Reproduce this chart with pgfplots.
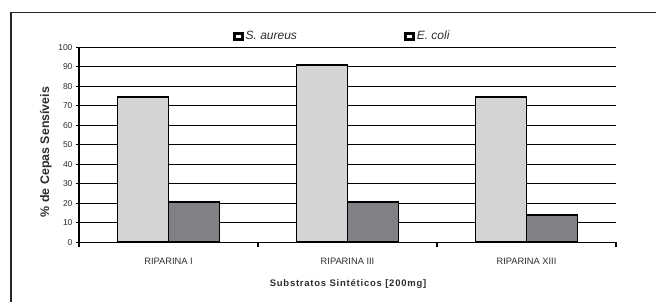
\documentclass[border=0pt]{standalone}
\usepackage{fontspec}
\setmainfont{Liberation Sans}
\usepackage{pgfplots}
\pgfplotsset{compat=1.18}
\definecolor{sa}{RGB}{212,212,214}
\definecolor{ec}{RGB}{128,129,133}
\definecolor{txt}{RGB}{45,45,45}
\begin{document}
\begin{tikzpicture}
\path[use as bounding box] (0,0) rectangle (656pt,302pt);
\draw[line width=1.3pt, black!85] (11pt,0) -- (11pt,289.5pt) -- (656pt,289.5pt);
\begin{axis}[
  at={(79pt,59.7pt)}, anchor=south west,
  scale only axis, width=537pt, height=195pt,
  ybar, bar width=51pt, ybar=0pt,
  xmin=-0.5, xmax=2.5, ymin=0, ymax=100,
  xtick={0,1,2}, xticklabels={RIPARINA I, RIPARINA III, RIPARINA XIII},
  minor xtick={-0.5,0.5,1.5,2.5},
  ytick={0,10,...,100},
  axis lines*=left,
  axis line style={black, line width=1.2pt},
  ymajorgrids, major grid style={black, line width=1.2pt},
  tick align=center,
  major tick length=6pt,
  minor tick length=5pt,
  major x tick style={draw=none},
  minor x tick style={black, line width=1.2pt, yshift=-2.5pt},
  major y tick style={black, line width=1.2pt},
  /pgf/number format/assume math mode=true,
  yticklabel style={font=\fontsize{8.5}{10}\selectfont, text=txt},
  xticklabel style={font=\fontsize{9.3}{11}\selectfont, text=txt, yshift=-9pt},
  ylabel={\% de Cepas Sensíveis},
  ylabel style={at={(axis description cs:-0.0615,0.463)}, anchor=center, font=\fontsize{12.4}{14}\selectfont\bfseries, text=txt},
  xlabel={Substratos Sintéticos [200mg]},
  xlabel style={at={(axis description cs:0.501,-0.214)}, anchor=center, font=\fontsize{9.5}{11}\selectfont\bfseries\addfontfeatures{LetterSpace=8}, text=txt},
  legend style={at={(axis description cs:0.49,1.056)}, anchor=center, draw=none, fill=none, legend columns=2, font=\fontsize{12}{14}\selectfont\itshape, text=txt, /tikz/every even column/.append style={column sep=105pt}},
  legend image code/.code={\fill[black] (0pt,-3.5pt) rectangle (9pt,3.5pt); \fill[white] (3pt,-0.7pt) rectangle (6pt,0.7pt);},
]
\addplot[fill=sa, draw=black, line width=1.8pt] coordinates {(0,74.5) (1,91) (2,74.5)};
\addplot[fill=ec, draw=black, line width=1.8pt] coordinates {(0,20.8) (1,20.8) (2,14)};
\legend{S.\ aureus, E.\ coli}
\end{axis}
\end{tikzpicture}
\end{document}
